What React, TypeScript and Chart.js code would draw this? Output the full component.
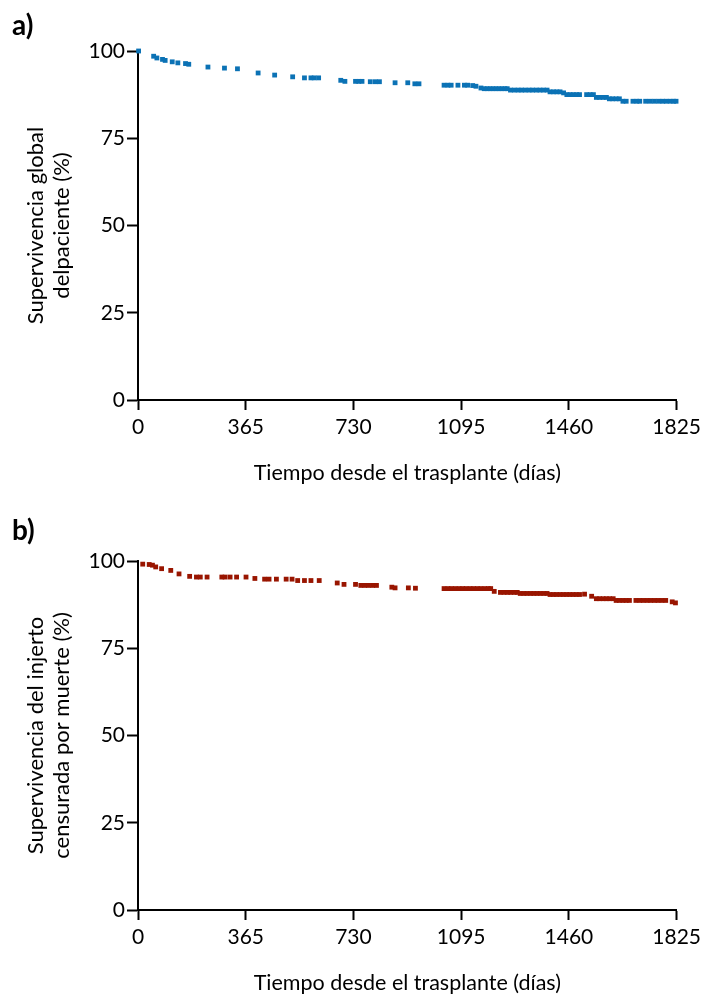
import React, { useEffect, useRef } from "react";
import { Chart, registerables } from "chart.js";
Chart.register(...registerables);

const FONT = "Lato";

const xTickValues = [0, 365, 730, 1095, 1460, 1825];
const yTickValues = [0, 25, 50, 75, 100];
const xAxisTitle = "Tiempo desde el trasplante (días)";
const yTitleA = ["Supervivencia global", "delpaciente (%)"];
const yTitleB = ["Supervivencia del injerto", "censurada por muerte (%)"];
const panelLabels = ["a)", "b)"];

// a) Supervivencia global del paciente — censored observations (days, %)
const daysA = [
  2, 53, 64, 83, 92, 116, 135, 161, 172,
  237, 293, 337, 407, 463, 524, 564, 586, 597, 612,
  687, 701, 737, 748, 759, 787, 804, 818,
  871, 914, 938, 952,
  1037, 1050, 1061, 1084, 1106, 1117, 1134, 1145,
  1162, 1173, 1183, 1193, 1203, 1213, 1223, 1233, 1243, 1251,
  1262, 1275, 1288, 1300, 1312, 1325, 1337, 1350, 1362, 1374, 1386,
  1396, 1408, 1419, 1430, 1442,
  1453, 1464, 1475, 1486, 1496, 1520, 1532, 1543,
  1553, 1564, 1576, 1587, 1597, 1608, 1620, 1631,
  1643, 1654, 1677, 1690, 1700, 1720, 1735, 1750,
  1765, 1778, 1790, 1803, 1815, 1823,
];
const survA = [
  100, 98.5, 98.0, 97.6, 97.3, 96.9, 96.6, 96.4, 96.2,
  95.4, 95.1, 94.9, 93.7, 93.1, 92.6, 92.3, 92.3, 92.3, 92.3,
  91.6, 91.3, 91.3, 91.3, 91.3, 91.2, 91.2, 91.2,
  90.9, 90.9, 90.6, 90.6,
  90.2, 90.2, 90.2, 90.2, 90.2, 90.2, 90.1, 89.9,
  89.4, 89.2, 89.2, 89.2, 89.2, 89.2, 89.2, 89.2, 89.2, 89.2,
  88.8, 88.8, 88.8, 88.8, 88.8, 88.8, 88.8, 88.8, 88.8, 88.8, 88.8,
  88.3, 88.3, 88.3, 88.3, 88.0,
  87.5, 87.5, 87.5, 87.5, 87.5, 87.5, 87.5, 87.5,
  86.7, 86.7, 86.7, 86.7, 86.3, 86.3, 86.3, 86.3,
  85.6, 85.6, 85.6, 85.6, 85.6, 85.6, 85.6, 85.6,
  85.6, 85.6, 85.6, 85.6, 85.6, 85.6,
];

// b) Supervivencia del injerto censurada por muerte (days, %)
const daysB = [
  16, 38, 49, 60, 80, 111, 139, 175,
  198, 211, 234, 284, 295, 312, 334, 366,
  396, 429, 444, 469, 502, 522,
  541, 564, 586, 614,
  675, 698, 737, 755, 768, 781, 795, 808,
  860, 871, 916, 940,
  1037, 1050, 1062, 1075, 1088, 1100, 1112, 1125, 1137, 1150, 1162, 1175, 1187, 1195,
  1207, 1228, 1240, 1252, 1263, 1275, 1285,
  1295, 1307, 1318, 1330, 1341, 1352, 1363, 1375, 1386,
  1396, 1407, 1418, 1430, 1441, 1452, 1463, 1474, 1485, 1496,
  1513, 1537,
  1553, 1564, 1576, 1587, 1598, 1610,
  1620, 1631, 1643, 1654, 1665,
  1687, 1700, 1712, 1725, 1737, 1750, 1762, 1775, 1788,
  1810, 1821,
];
const survB = [
  99.1, 99.0, 98.8, 98.3, 97.8, 97.3, 96.3, 95.6,
  95.4, 95.4, 95.4, 95.4, 95.4, 95.4, 95.4, 95.4,
  95.0, 94.8, 94.8, 94.8, 94.8, 94.8,
  94.4, 94.4, 94.4, 94.4,
  93.7, 93.3, 93.3, 93.0, 93.0, 93.0, 93.0, 93.0,
  92.5, 92.3, 92.3, 92.2,
  92.1, 92.1, 92.1, 92.1, 92.1, 92.1, 92.1, 92.1, 92.1, 92.1, 92.1, 92.1, 92.1, 92.1,
  91.3, 91.0, 91.0, 91.0, 91.0, 91.0, 91.0,
  90.7, 90.7, 90.7, 90.7, 90.7, 90.7, 90.7, 90.7, 90.7,
  90.4, 90.4, 90.4, 90.4, 90.4, 90.4, 90.4, 90.4, 90.4, 90.4,
  90.5, 89.9,
  89.2, 89.2, 89.2, 89.2, 89.2, 89.2,
  88.7, 88.7, 88.7, 88.7, 88.7,
  88.7, 88.7, 88.7, 88.7, 88.7, 88.7, 88.7, 88.7, 88.7,
  88.3, 88.0,
];

const COLOR_A = "#0b72b5";
const COLOR_B = "#991500";

function makeConfig(days: number[], surv: number[], color: string, yTitle: string[], canvasH: number) {
  const data = days.map((d, i) => ({ x: d, y: surv[i] }));
  return {
    type: "scatter",
    data: {
      datasets: [
        {
          data,
          backgroundColor: color,
          borderColor: color,
          borderWidth: 0,
          pointStyle: "rect",
          pointRadius: 3.4,
          showLine: false,
          clip: false,
        },
      ],
    },
    options: {
      responsive: false,
      animation: false,
      events: [],
      layout: { padding: { top: 51, right: 26, bottom: 0, left: 0 } },
      plugins: { legend: { display: false }, tooltip: { enabled: false } },
      scales: {
        x: {
          type: "linear",
          min: 0,
          max: 1825,
          afterBuildTicks: (s: any) => {
            s.ticks = xTickValues.map((v) => ({ value: v }));
          },
          afterFit: (s: any) => {
            s.height = canvasH - 400;
          },
          grid: { drawOnChartArea: false, drawTicks: true, tickLength: 10, tickWidth: 2, color: "#000" },
          border: { display: true, color: "#000", width: 2 },
          ticks: {
            color: "#000",
            font: { family: FONT, size: 21 },
            padding: 5,
            maxRotation: 0,
            autoSkip: false,
            callback: (v: any) => String(v),
          },
          title: {
            display: true,
            text: xAxisTitle,
            color: "#000",
            font: { family: FONT, size: 21.5 },
            padding: { top: 0, bottom: canvasH - 400 - 110 + 24 },
          },
        },
        y: {
          type: "linear",
          min: 0,
          max: 100,
          afterBuildTicks: (s: any) => {
            s.ticks = yTickValues.map((v) => ({ value: v }));
          },
          afterFit: (s: any) => {
            s.width = 138;
          },
          grid: { drawOnChartArea: false, drawTicks: true, tickLength: 11, tickWidth: 2, color: "#000" },
          border: { display: true, color: "#000", width: 2 },
          ticks: { color: "#000", font: { family: FONT, size: 21 }, padding: 2, callback: (v: any) => String(v) },
          title: {
            display: true,
            text: yTitle,
            color: "#000",
            font: { family: FONT, size: 22, lineHeight: 1.18 },
            padding: { top: 23, bottom: 0 },
          },
        },
      },
    },
  } as any;
}

function KMChart({ days, surv, color, yTitle, height, top }: any) {
  const ref = useRef<HTMLCanvasElement>(null);
  useEffect(() => {
    if (!ref.current) return;
    const chart = new Chart(ref.current, makeConfig(days, surv, color, yTitle, height));
    return () => chart.destroy();
  }, []);
  return (
    <canvas
      ref={ref}
      width={706}
      height={height}
      style={{ position: "absolute", left: 0, top, width: 706, height }}
    />
  );
}

const labelStyle: React.CSSProperties = {
  position: "absolute",
  left: 12,
  fontFamily: FONT,
  fontWeight: 700,
  fontSize: 28,
  lineHeight: 1,
  color: "#000",
};

export default function App() {
  return (
    <div style={{ position: "absolute", left: 0, top: 0, width: 706, height: 994, background: "#fff", overflow: "hidden" }}>
      <KMChart days={daysA} surv={survA} color={COLOR_A} yTitle={yTitleA} height={510} top={0} />
      <KMChart days={daysB} surv={survB} color={COLOR_B} yTitle={yTitleB} height={484} top={510} />
      <div style={{ ...labelStyle, top: 10 }}>{panelLabels[0]}</div>
      <div style={{ ...labelStyle, top: 515 }}>{panelLabels[1]}</div>
    </div>
  );
}
